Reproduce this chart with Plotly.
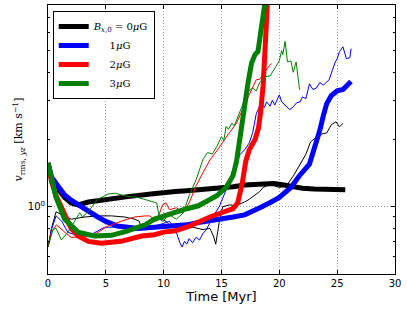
import plotly.graph_objects as go

# ---- data (time in Myr, velocity in km/s) ----
# thick lines
t_b0 = [0, 0.3, 0.86, 1.44, 2.0, 2.6, 3.5, 4.9, 6.9, 8.9, 10.0, 11.0, 12.0, 13.0, 14.0, 15.0,
        16.0, 17.0, 18.0, 19.0, 19.5, 20.0, 21.0, 22.0, 23.0, 24.0, 25.0, 25.7]
v_b0 = [1.57, 1.33, 1.2, 1.1, 1.04, 1.02, 1.05, 1.08, 1.11, 1.14, 1.16, 1.17, 1.18, 1.19, 1.2,
        1.22, 1.23, 1.25, 1.26, 1.27, 1.27, 1.26, 1.23, 1.21, 1.2, 1.2, 1.19, 1.19]

t_b1 = [0, 0.3, 0.86, 1.44, 2.0, 2.6, 3.5, 4.3, 5.0, 6.0, 7.8, 9.9, 11.0, 12.0, 13.0, 14.0, 15.0,
        16.0, 17.0, 17.5, 18.5, 19.3, 20.0, 21.0, 21.7, 22.6, 23.0, 23.5, 23.8, 24.1, 24.5, 25.0,
        25.5, 25.9, 26.2]
v_b1 = [1.57, 1.36, 1.24, 1.13, 1.07, 1.02, 0.95, 0.9, 0.86, 0.82, 0.8, 0.81, 0.82, 0.83, 0.85,
        0.87, 0.89, 0.9, 0.92, 0.95, 1.0, 1.05, 1.1, 1.22, 1.37, 1.55, 1.78, 2.2, 2.55, 2.9,
        3.15, 3.3, 3.35, 3.5, 3.64]

t_b2 = [0, 0.3, 0.7, 1.44, 2.0, 2.6, 3.5, 4.6, 6.3, 8.1, 9.2, 10.0, 11.0, 12.0, 13.0, 14.0, 15.0,
        16.0, 16.4, 16.8, 17.1, 17.4, 17.9, 18.2, 18.4, 18.6, 18.8, 19.0, 19.05]
v_b2 = [1.57, 1.3, 1.12, 0.91, 0.8, 0.74, 0.7, 0.686, 0.7, 0.74, 0.75, 0.77, 0.78, 0.81, 0.86,
        0.9, 0.94, 0.98, 1.04, 1.28, 1.6, 1.8, 2.0, 2.25, 2.7, 3.5, 5.5, 8.5, 10.0]

t_b3 = [0, 0.3, 0.7, 1.44, 2.6, 4.0, 5.5, 6.9, 8.4, 9.2, 10.0, 11.0, 12.0, 13.0, 14.0, 14.6, 15.4,
        16.0, 16.3, 16.7, 17.0, 17.3, 17.6, 17.9, 18.15, 18.4, 18.7, 18.9, 19.0]
v_b3 = [1.57, 1.32, 1.1, 0.88, 0.77, 0.74, 0.745, 0.78, 0.83, 0.88, 0.91, 0.94, 0.98, 1.01, 1.07,
        1.12, 1.22, 1.38, 1.6, 2.28, 2.9, 3.6, 4.4, 4.8, 4.95, 6.1, 7.7, 9.0, 10.0]

# thin lines
t_s0 = [0, 0.3, 0.7, 1.0, 1.5, 2.0, 2.6, 3.2, 4.3, 5.5, 6.6, 7.5, 7.9, 8.1, 8.5, 9.0, 9.6, 10.2,
        10.5, 11.0, 11.6, 12.0, 12.5, 13.0, 13.4, 14.0, 14.3, 14.5, 14.8, 15.1, 15.7, 16.2, 16.6,
        17.0, 17.4, 17.8, 18.3, 18.6, 19.2, 19.6, 20.0, 20.6, 21.2, 21.8, 22.3, 22.7, 23.2, 23.7,
        24.1, 24.5, 24.9, 25.2, 25.5]
v_s0 = [0.66, 0.8, 0.95, 0.93, 0.9, 0.88, 0.89, 0.9, 0.91, 0.91, 0.9, 0.88, 0.86, 0.79, 0.85,
        0.88, 0.89, 0.86, 0.83, 0.81, 0.82, 0.8, 0.81, 0.8, 0.79, 0.8, 0.74, 0.68, 0.85, 1.0,
        1.02, 1.01, 1.03, 1.05, 1.08, 1.12, 1.17, 1.22, 1.26, 1.24, 1.22, 1.24, 1.37, 1.55, 1.72,
        1.95, 2.05, 2.12, 2.14, 2.33, 2.4, 2.28, 2.36]

t_s1 = [0, 0.3, 0.7, 1.2, 1.7, 2.6, 3.7, 4.9, 6.0, 7.5, 8.2, 8.8, 9.6, 10.5, 11.0, 11.2, 11.4,
        11.6, 11.8, 12.0, 12.2, 12.5, 12.8, 13.1, 13.4, 13.7, 14.3, 14.8, 15.4, 16.0, 16.6, 17.0,
        17.4, 17.7, 18.0, 18.2, 18.4, 18.7, 18.9, 19.2, 19.4, 19.6, 20.0, 20.2, 20.5, 20.9, 21.2,
        21.5, 21.8, 22.0, 22.3, 22.6, 22.9, 23.2, 23.5, 23.8, 24.1, 24.3, 24.6, 24.8, 25.0, 25.2,
        25.5, 25.8, 26.1, 26.2]
v_s1 = [0.66, 0.79, 0.91, 0.86, 0.77, 0.74, 0.75, 0.81, 0.81, 0.8, 0.79, 0.81, 0.83, 0.86, 0.8,
        0.74, 0.69, 0.66, 0.7, 0.68, 0.72, 0.69, 0.73, 0.71, 0.76, 0.79, 0.91, 1.0, 1.19, 1.47,
        1.71, 1.8, 1.93, 2.15, 2.6, 2.75, 2.9, 2.78, 2.95, 2.82, 3.0, 2.85, 3.17, 2.95, 2.86, 2.72,
        2.8, 2.92, 2.95, 3.1, 3.05, 3.55, 3.35, 3.4, 3.6, 3.5, 3.62, 3.7, 4.1, 4.4, 4.6, 4.95, 5.2,
        4.6, 4.65, 5.1]

t_s2 = [0, 0.3, 0.73, 1.16, 1.44, 2.0, 2.9, 4.0, 5.2, 6.3, 7.5, 8.4, 8.8, 9.4, 9.65, 9.9, 10.2,
        10.5, 11.1, 11.7, 12.2, 12.8, 13.4, 14.0, 14.6, 15.2, 15.7, 16.3, 16.9, 17.4, 18.0, 18.3,
        18.7, 19.0, 19.3]
v_s2 = [0.66, 0.77, 0.83, 0.79, 0.77, 0.73, 0.73, 0.75, 0.82, 0.86, 0.9, 0.91, 0.91, 0.86, 0.94,
        1.02, 1.04, 0.97, 0.99, 0.94, 1.04, 1.24, 1.42, 1.62, 1.78, 1.98, 2.15, 2.37, 2.8, 3.17,
        3.7, 3.72, 4.0, 4.2, 4.38]

t_s3 = [0, 0.15, 0.43, 0.7, 1.16, 1.73, 2.3, 2.74, 3.0, 3.6, 4.3, 5.2, 5.8, 6.6, 7.8, 8.9, 9.4,
        9.65, 9.9, 10.5, 11.1, 11.7, 12.2, 12.8, 13.4, 13.8, 14.2, 14.6, 15.0, 15.2, 15.4, 15.6,
        15.9, 16.1, 16.3, 16.9, 17.3, 17.7, 18.0, 18.3, 18.9, 19.2, 19.7, 20.0, 20.2, 20.3, 20.5,
        20.7, 21.0, 21.2, 21.45, 21.6, 21.75]
v_s3 = [0.66, 0.71, 0.79, 0.8, 0.71, 0.77, 0.86, 0.94, 0.9, 0.97, 1.08, 1.14, 1.15, 1.12, 1.1,
        1.06, 1.04, 0.88, 0.86, 0.92, 0.88, 0.94, 1.12, 1.32, 1.63, 1.75, 1.72, 1.86, 2.06, 1.98,
        2.29, 2.22, 2.37, 2.3, 2.45, 2.92, 3.28, 3.4, 3.3, 3.6, 3.83, 3.85, 4.24, 4.5, 5.0, 4.8,
        5.5, 4.45, 4.5, 4.0, 4.45, 3.95, 3.34]

labels = ["<i>B</i><sub><i>x</i>,0</sub> = 0<i>μ</i>G",
          "\u00a0\u00a0\u00a0\u00a0\u00a01<i>μ</i>G",
          "\u00a0\u00a0\u00a0\u00a0\u00a02<i>μ</i>G",
          "\u00a0\u00a0\u00a0\u00a0\u00a03<i>μ</i>G"]
colors = ["#000000", "#0000ff", "#ff0000", "#008000"]

thick = [(t_b0, v_b0), (t_b1, v_b1), (t_b2, v_b2), (t_b3, v_b3)]
thin = [(t_s0, v_s0), (t_s1, v_s1), (t_s2, v_s2), (t_s3, v_s3)]

x_ticks = [0, 5, 10, 15, 20, 25, 30]
y_minor = [0.5, 0.6, 0.7, 0.8, 0.9, 2, 3, 4, 5, 6, 7, 8]

fig = go.Figure()
for (tt, vv), (ts, vs), c, lab in zip(thick, thin, colors, labels):
    fig.add_trace(go.Scatter(x=tt, y=vv, mode="lines", name=lab,
                             line=dict(color=c, width=5)))
    fig.add_trace(go.Scatter(x=ts, y=vs, mode="lines", showlegend=False,
                             line=dict(color=c, width=1)))

fig.update_layout(
    width=407, height=311,
    margin=dict(l=48, r=12, t=5, b=37, autoexpand=False),
    paper_bgcolor="white", plot_bgcolor="white",
    font=dict(family="DejaVu Sans", size=10, color="black"),
    legend=dict(x=0.0136, y=0.978, xanchor="left", yanchor="top",
                bordercolor="black", borderwidth=1, bgcolor="white",
                font=dict(family="DejaVu Serif", size=10),
                tracegroupgap=0, itemwidth=30),
)
fig.update_xaxes(
    range=[0, 30], tickvals=x_ticks, ticks="inside", ticklen=4, tickcolor="black",
    showline=True, linecolor="black", linewidth=1, mirror="ticks", automargin=False,
    showgrid=True, gridcolor="#999999", griddash="1px,2px", gridwidth=1, zeroline=False,
    title=dict(text="Time [Myr]", font=dict(family="DejaVu Sans", size=13), standoff=2),
    tickfont=dict(size=10),
)
fig.update_yaxes(
    type="log", range=[-0.30103, 0.90309], automargin=False,
    tickvals=[1], ticktext=["10<sup>0</sup>"], ticks="inside", ticklen=4, tickcolor="black",
    showline=True, linecolor="black", linewidth=1, mirror="ticks",
    showgrid=True, gridcolor="#999999", griddash="1px,2px", gridwidth=1, zeroline=False,
    minor=dict(tickvals=y_minor, ticks="inside", ticklen=2, tickcolor="black", showgrid=False),
    title=dict(text="<i>v</i><sub>rms, <i>yz</i></sub> [km s<sup>−1</sup>]",
               font=dict(family="DejaVu Serif", size=11), standoff=2),
    tickfont=dict(size=10),
)

fig.write_html("out.html", config={"displayModeBar": False},
               post_script="document.body.style.margin='0';document.body.style.overflow='hidden';")
